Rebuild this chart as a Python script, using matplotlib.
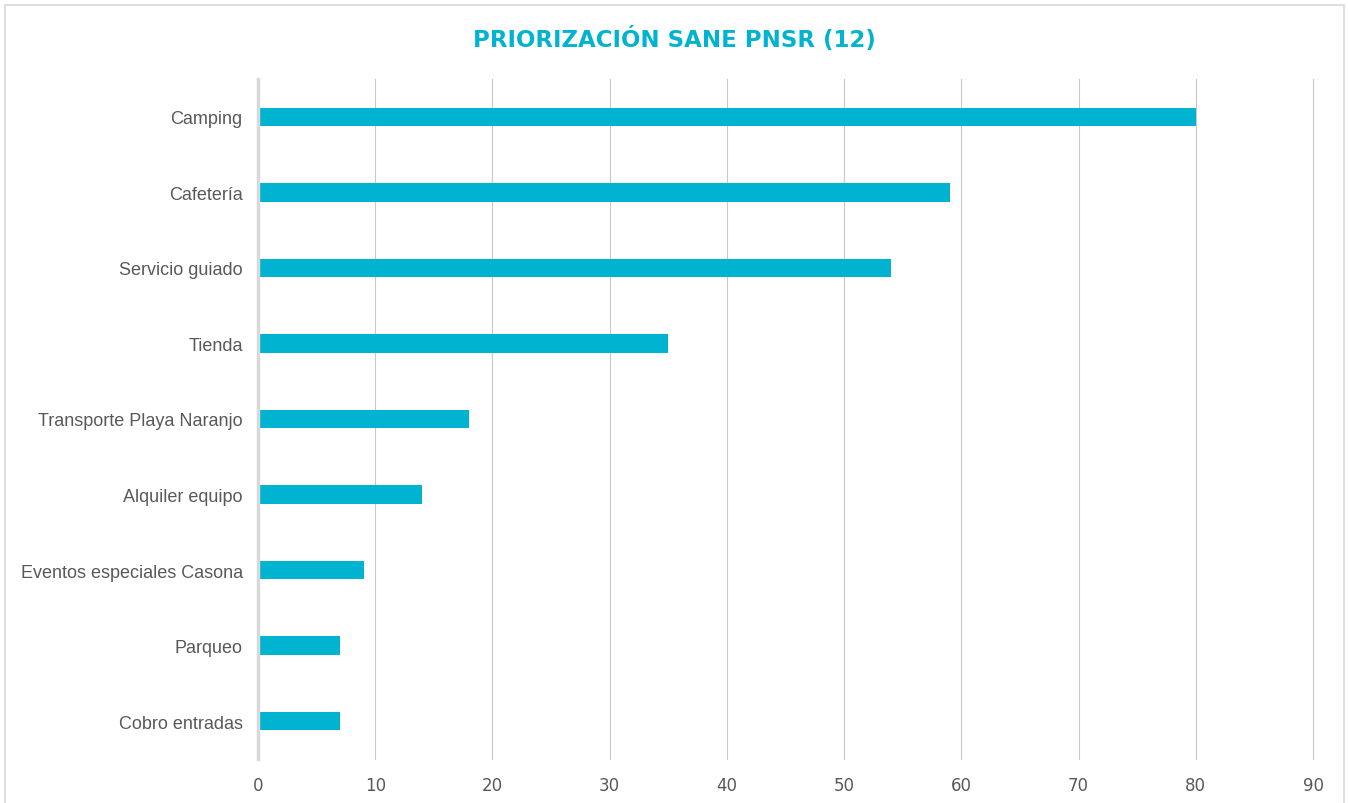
import matplotlib
matplotlib.use('Agg')
import matplotlib.pyplot as plt
from matplotlib.patches import Rectangle

CATEGORIES = ['Camping', 'Cafetería', 'Servicio guiado', 'Tienda',
              'Transporte Playa Naranjo', 'Alquiler equipo',
              'Eventos especiales Casona', 'Parqueo', 'Cobro entradas']
VALUES = [80, 59, 54, 35, 18, 14, 9, 7, 7]
XTICKS = [0, 10, 20, 30, 40, 50, 60, 70, 80, 90]

TEAL = '#00B4D1'
GRID = '#D9D9D9'
TEXT = '#595959'
NARROW = ['DejaVu Sans Condensed', 'Liberation Sans Narrow', 'DejaVu Sans']

fig = plt.figure(figsize=(13.48, 8.04), dpi=100)
ax = fig.add_axes([258 / 1348, 1 - 760 / 804, (1313 - 258) / 1348, (760 - 80) / 804])

ypos = list(range(len(CATEGORIES)))
ax.barh(ypos, VALUES, height=0.245, color=TEAL, zorder=3)

ax.set_ylim(len(CATEGORIES) - 0.5, -0.5)
ax.set_xlim(0, 90)
ax.set_yticks(ypos)
ax.set_yticklabels(CATEGORIES, fontsize=13, color=TEXT, family=['Liberation Sans', 'DejaVu Sans'])
ax.set_xticks(XTICKS)
ax.set_xticklabels([str(t) for t in XTICKS], fontsize=12, color=TEXT, family=NARROW)
ax.tick_params(axis='both', length=0)
ax.tick_params(axis='x', pad=12)
ax.tick_params(axis='y', pad=11)

ax.xaxis.grid(True, color='#C8C8C8', linewidth=0.8, zorder=0)
for gl in ax.get_xgridlines():
    gl.set_clip_on(False)
for s in ['top', 'right', 'bottom']:
    ax.spines[s].set_visible(False)
ax.spines['left'].set_color(GRID)
ax.spines['left'].set_linewidth(2.5)
ax.spines['left'].set_zorder(4)

fig.text(0.5, 1 - 40 / 804, 'PRIORIZACIÓN SANE PNSR (12)', ha='center', va='center',
         fontsize=16.5, fontweight='bold', color=TEAL, family=NARROW)

# light border around the chart area
fig.patches.append(Rectangle((5 / 1348, -0.01), (1344 - 5) / 1348, 1 - 6 / 804 + 0.01,
                             transform=fig.transFigure, fill=False,
                             edgecolor=GRID, linewidth=1.2))

fig.savefig('out.png', dpi=100, facecolor='white')
